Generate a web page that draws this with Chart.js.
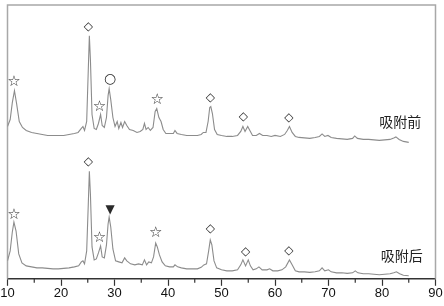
<!DOCTYPE html>
<html><head><meta charset="utf-8">
<script src="https://cdn.jsdelivr.net/npm/chart.js@4/dist/chart.umd.min.js"></script>
<style>html,body{margin:0;padding:0;background:#fff}#wrap{width:444px;height:306px}</style>
</head><body><div id="wrap"><canvas id="c" width="444" height="306"></canvas></div>
<script>
// 2θ (degrees) and intensity (arbitrary units) — before adsorption
const beforeX = [10.0,10.5,10.9,11.3,11.7,12.2,12.8,13.5,14.5,15.5,16.5,17.5,18.5,19.5,20.5,21.5,22.5,23.2,23.8,24.1,24.4,24.8,25.1,25.3,25.5,25.8,26.2,26.6,27.0,27.4,27.7,28.1,28.5,28.8,29.0,29.3,29.7,30.1,30.5,30.8,31.2,31.5,31.9,32.3,32.8,33.5,34.2,34.8,35.3,35.6,35.9,36.3,36.7,37.2,37.6,37.9,38.3,38.7,39.1,39.6,40.3,41.0,41.3,41.7,42.5,43.5,44.5,45.5,46.2,46.6,47.1,47.5,47.8,48.0,48.3,48.7,49.2,50.0,51.0,52.0,53.0,53.6,54.0,54.4,54.9,55.3,55.8,56.5,57.1,57.7,58.5,59.3,60.0,61.0,61.8,62.3,62.7,63.2,63.8,64.5,65.5,66.5,67.5,68.3,68.8,69.3,69.9,70.5,71.5,72.5,73.5,74.5,74.9,75.4,76.5,77.5,78.5,79.5,80.5,81.5,82.2,82.6,83.2,84.0,85.0];
const beforeY = [156,163,180,192,179,161,155,152,150,149,148,147,147,147,147,148,149,150,154,156,152,161,213,247,223,168,154,153,159,168,157,155,165,187,194,183,165,156,161,154,160,155,161,157,153,152,150,151,153,159,153,155,152,155,171,174,165,161,153,149,149,149,152,149,148,147,147,147,148,150,150,161,175,176,169,153,148,147,146,146,147,151,156,151,156,152,147,147,149,147,147,146,147,146,148,152,156,150,146,145,144.5,144,145,146,148.5,146,147,145,144,143.5,143,144,146.5,144,143,143,142.5,142,142.5,143,144.5,145.5,143,141,140];
// after adsorption
const afterX = [10.0,10.5,10.9,11.2,11.6,12.1,12.7,13.5,14.5,15.5,16.5,17.5,18.5,19.5,20.5,21.5,22.5,23.3,23.8,24.1,24.4,24.8,25.1,25.3,25.5,25.8,26.2,26.6,27.0,27.4,27.7,28.1,28.5,28.8,29.0,29.3,29.7,30.2,30.8,31.4,31.9,32.3,33.0,33.8,34.5,35.2,35.6,36.0,36.4,36.9,37.3,37.7,38.0,38.4,38.9,39.5,40.3,41.0,41.3,41.8,42.5,43.5,44.5,45.5,46.2,46.7,47.2,47.6,47.9,48.2,48.6,49.1,50.0,51.0,52.0,53.0,53.6,54.0,54.5,55.0,55.4,55.9,56.5,57.0,57.6,58.5,59.0,59.6,60.5,61.3,62.0,62.7,63.2,63.8,64.5,65.5,66.5,67.5,68.3,68.8,69.3,70.0,70.5,71.5,72.5,73.5,74.5,75.0,75.5,76.5,77.5,78.5,79.5,80.5,81.5,82.2,82.7,83.3,84.0,85.0];
const afterY = [21,31,50,60,51,28,19,16,15,14,14,13.5,13,13,13.5,14,15,16,20,21,18,31,78,111,88,35,22,23,29,36,25,24,37,58,65,55,33,21,20,19,24,21,18,17,18,17,22,17,20,19,25,39,35,27,20,16,15,15,17,15,14,13,13,13,14.5,17,18,31,42,37,21,14,12,11,11,12,17,22,16,22,16,12,13,15,12,12,13,11,11,12,15,22,17,11,10,10,9.5,10,11,14,11,12,10,9,9,8.5,9,11,9,8,8,7.5,7,7.5,8,9,10,8,6.5,6];
// phase markers: symbol, 2θ, intensity position
const markBefore = [["☆",11.2,201],["◇",25.1,256],["☆",27.2,175],["○",29.2,203],["☆",38.0,182],["◇",47.9,185],["◇",54.1,166],["◇",62.6,165]];
const markAfter  = [["☆",11.2,67],["◇",25.1,120],["☆",27.2,44],["▼",29.2,72],["☆",37.7,49],["◇",47.9,53],["◇",54.5,30],["◇",62.6,31]];
const seriesLabels = [["吸附前",83.4,161],["吸附后",83.7,26]];
const xMin = 10, xMax = 90, xMajor = 10, xMinor = 5;

const toPts = (xs, ys) => xs.map((x, i) => ({x, y: ys[i]}));
const glyphSize = {"☆": 15, "◇": 12, "○": 14, "▼": 12};

const decor = {
  id: 'decor',
  beforeDatasetsDraw(chart) {
    const {ctx, chartArea: a} = chart;
    ctx.save();
    ctx.strokeStyle = '#a8a8a8';
    ctx.lineWidth = 1.5;
    ctx.beginPath();
    ctx.moveTo(a.left, a.bottom); ctx.lineTo(a.left, a.top);
    ctx.lineTo(a.right, a.top); ctx.lineTo(a.right, a.bottom);
    ctx.stroke();
    ctx.restore();
  },
  afterDraw(chart) {
    const {ctx, chartArea: a, scales} = chart;
    const xs = scales.x, ys = scales.y;
    ctx.save();
    // minor ticks
    ctx.strokeStyle = '#333'; ctx.lineWidth = 1.2;
    for (let v = xMin + xMinor; v < xMax; v += xMajor) {
      const px = xs.getPixelForValue(v);
      ctx.beginPath(); ctx.moveTo(px, a.bottom); ctx.lineTo(px, a.bottom + 4); ctx.stroke();
    }
    ctx.fillStyle = '#2a2a2a';
    ctx.textAlign = 'center'; ctx.textBaseline = 'middle';
    for (const [s, x, y] of markBefore.concat(markAfter)) {
      ctx.font = glyphSize[s] + 'px "DejaVu Sans"';
      ctx.fillText(s, xs.getPixelForValue(x), ys.getPixelForValue(y));
    }
    ctx.fillStyle = '#222';
    ctx.font = '14px "Noto Sans CJK SC"';
    for (const [s, x, y] of seriesLabels) {
      ctx.fillText(s, xs.getPixelForValue(x), ys.getPixelForValue(y));
    }
    ctx.restore();
  }
};

new Chart(document.getElementById('c'), {
  type: 'line',
  data: {
    datasets: [
      {label: '吸附前', data: toPts(beforeX, beforeY), borderColor: '#8c8c8c', borderWidth: 1.1, pointRadius: 0, tension: 0},
      {label: '吸附后', data: toPts(afterX, afterY), borderColor: '#8c8c8c', borderWidth: 1.1, pointRadius: 0, tension: 0}
    ]
  },
  options: {
    responsive: false, animation: false,
    layout: {padding: {left: 7.5, right: 8.5, top: 5, bottom: 4.6}},
    plugins: {legend: {display: false}, tooltip: {enabled: false}},
    scales: {
      x: {
        type: 'linear', min: xMin, max: xMax,
        ticks: {stepSize: xMajor, padding: 0, color: '#111', font: {family: '"Liberation Sans", Arial', size: 13}, maxRotation: 0},
        grid: {display: true, drawOnChartArea: false, drawTicks: true, tickLength: 7, tickColor: '#333', tickWidth: 1.2},
        border: {display: true, color: '#333', width: 1.5}
      },
      y: {display: false, min: 3, max: 278}
    }
  },
  plugins: [decor]
});
</script></body></html>
